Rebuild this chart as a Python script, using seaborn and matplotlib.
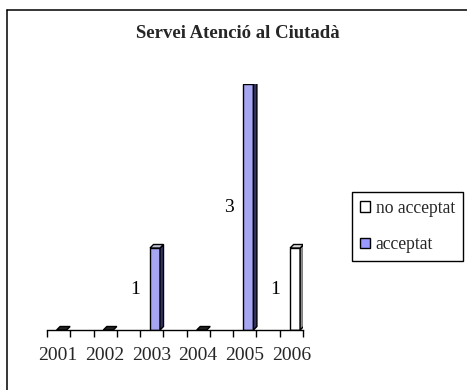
import matplotlib
matplotlib.use("Agg")
import matplotlib.pyplot as plt
from matplotlib.patches import Polygon, Patch
from matplotlib.lines import Line2D
import seaborn as sns
import pandas as pd
import numpy as np

# Chart data
years = ["2001", "2002", "2003", "2004", "2005", "2006"]
no_acceptat = [0, 0, 0, 0, 0, 1]
acceptat = [0, 0, 1, 0, 3, 0]
series_names = ["no acceptat", "acceptat"]
series_colors = {"no acceptat": "#FFFFFF", "acceptat": "#9999FF"}
side_colors = {"no acceptat": "#8C8C8C", "acceptat": "#333366"}
top_colors = {"no acceptat": "#D9D9D9", "acceptat": "#C0C0D8"}
title = "Servei Atenció al Ciutadà"

df = pd.DataFrame({
    "year": years * 2,
    "serie": [series_names[0]] * len(years) + [series_names[1]] * len(years),
    "value": no_acceptat + acceptat,
})

sns.set_style("white")
plt.rcParams["font.family"] = ["Liberation Serif", "DejaVu Serif"]

W, H = 467, 390
fig = plt.figure(figsize=(W / 100, H / 100), dpi=100)

# plot area in pixels: x 47..303, baseline y=330, value 3 at y=84
ax = fig.add_axes([47 / W, (H - 330) / H, (303 - 47) / W, (330 - 84) / H])

bar_w = 0.214
sns.barplot(data=df, x="year", y="value", hue="serie", order=years,
            hue_order=series_names, palette=series_colors, dodge=False,
            width=bar_w, edgecolor="black", linewidth=1.0, legend=False, ax=ax)

px_per_unit = 46.7
x_lo = -0.313
x_hi = x_lo + 256 / px_per_unit
ax.set_xlim(x_lo, x_hi)
ax.set_ylim(0, 3)

# depth of the pseudo-3D faces
dx = 3.5 / px_per_unit
dy = 3.5 * 3 / 246

for container, name in zip(ax.containers, series_names):
    for i, rect in enumerate(container.patches):
        h = rect.get_height()
        if h <= 0:
            continue
        x0 = rect.get_x()
        x1 = x0 + rect.get_width()
        side = Polygon([(x1, 0), (x1 + dx, dy), (x1 + dx, h + dy), (x1, h)],
                       closed=True, facecolor=side_colors[name],
                       edgecolor="black", linewidth=1.0, zorder=3)
        top = Polygon([(x0, h), (x1, h), (x1 + dx, h + dy), (x0 + dx, h + dy)],
                      closed=True, facecolor=top_colors[name],
                      edgecolor="black", linewidth=1.0, zorder=3)
        ax.add_patch(side)
        ax.add_patch(top)
        ax.annotate(f"{h:g}", xy=(x0, h / 2), xytext=(-7, 0),
                    textcoords="offset points", ha="right", va="center",
                    fontsize=14, color="black")

# flat slabs for years with no cases
first = ax.containers[0].patches
for i in range(len(years)):
    if no_acceptat[i] == 0 and acceptat[i] == 0:
        x0 = first[i].get_x()
        x1 = x0 + first[i].get_width()
        slab = Polygon([(x0, 0), (x1, 0), (x1 + dx, dy), (x0 + dx, dy)],
                       closed=True, facecolor="#222222", edgecolor="black",
                       linewidth=1.0, zorder=3, clip_on=False)
        ax.add_patch(slab)

# category labels and tick marks
pos = np.arange(len(years))
ax.set_xticks(pos - 3.6 / px_per_unit)
ax.set_xticklabels(years, fontsize=14)
ax.tick_params(axis="x", which="major", length=0, pad=12)
minor = [(23.27 * k) / px_per_unit + x_lo for k in range(12)]
ax.set_xticks(minor, minor=True)
ax.tick_params(axis="x", which="minor", length=5, width=1, color="black",
               direction="out", bottom=True)
ax.set_yticks([])
ax.set_xlabel("")
ax.set_ylabel("")
for s in ["left", "top", "right"]:
    ax.spines[s].set_visible(False)
ax.spines["bottom"].set_color("black")
ax.spines["bottom"].set_linewidth(1)
ax.set_facecolor("none")

fig.text(238 / W, 1 - 33 / H, title, ha="center", va="center",
         fontsize=13.5, fontweight="bold")

handles = [Patch(facecolor=series_colors[s], edgecolor="black", linewidth=1)
           for s in series_names]
fig.legend(handles, series_names, loc="upper left",
           bbox_to_anchor=(352 / W, 1 - 192 / H), borderaxespad=0,
           fontsize=12.7, frameon=True, fancybox=False, edgecolor="black",
           framealpha=1, handlelength=0.55, handleheight=0.55,
           handletextpad=0.35, labelspacing=1.1, borderpad=0.45)
leg = fig.legends[0]
leg.get_frame().set_linewidth(1)

# outer frame
fig.add_artist(Line2D([7 / W, 7 / W], [0, 1 - 10 / H], color="black",
                      linewidth=1.1, transform=fig.transFigure))
fig.add_artist(Line2D([7 / W, 1], [1 - 10 / H, 1 - 10 / H], color="black",
                      linewidth=1.1, transform=fig.transFigure))

fig.savefig("out.png", dpi=100, facecolor="white")
